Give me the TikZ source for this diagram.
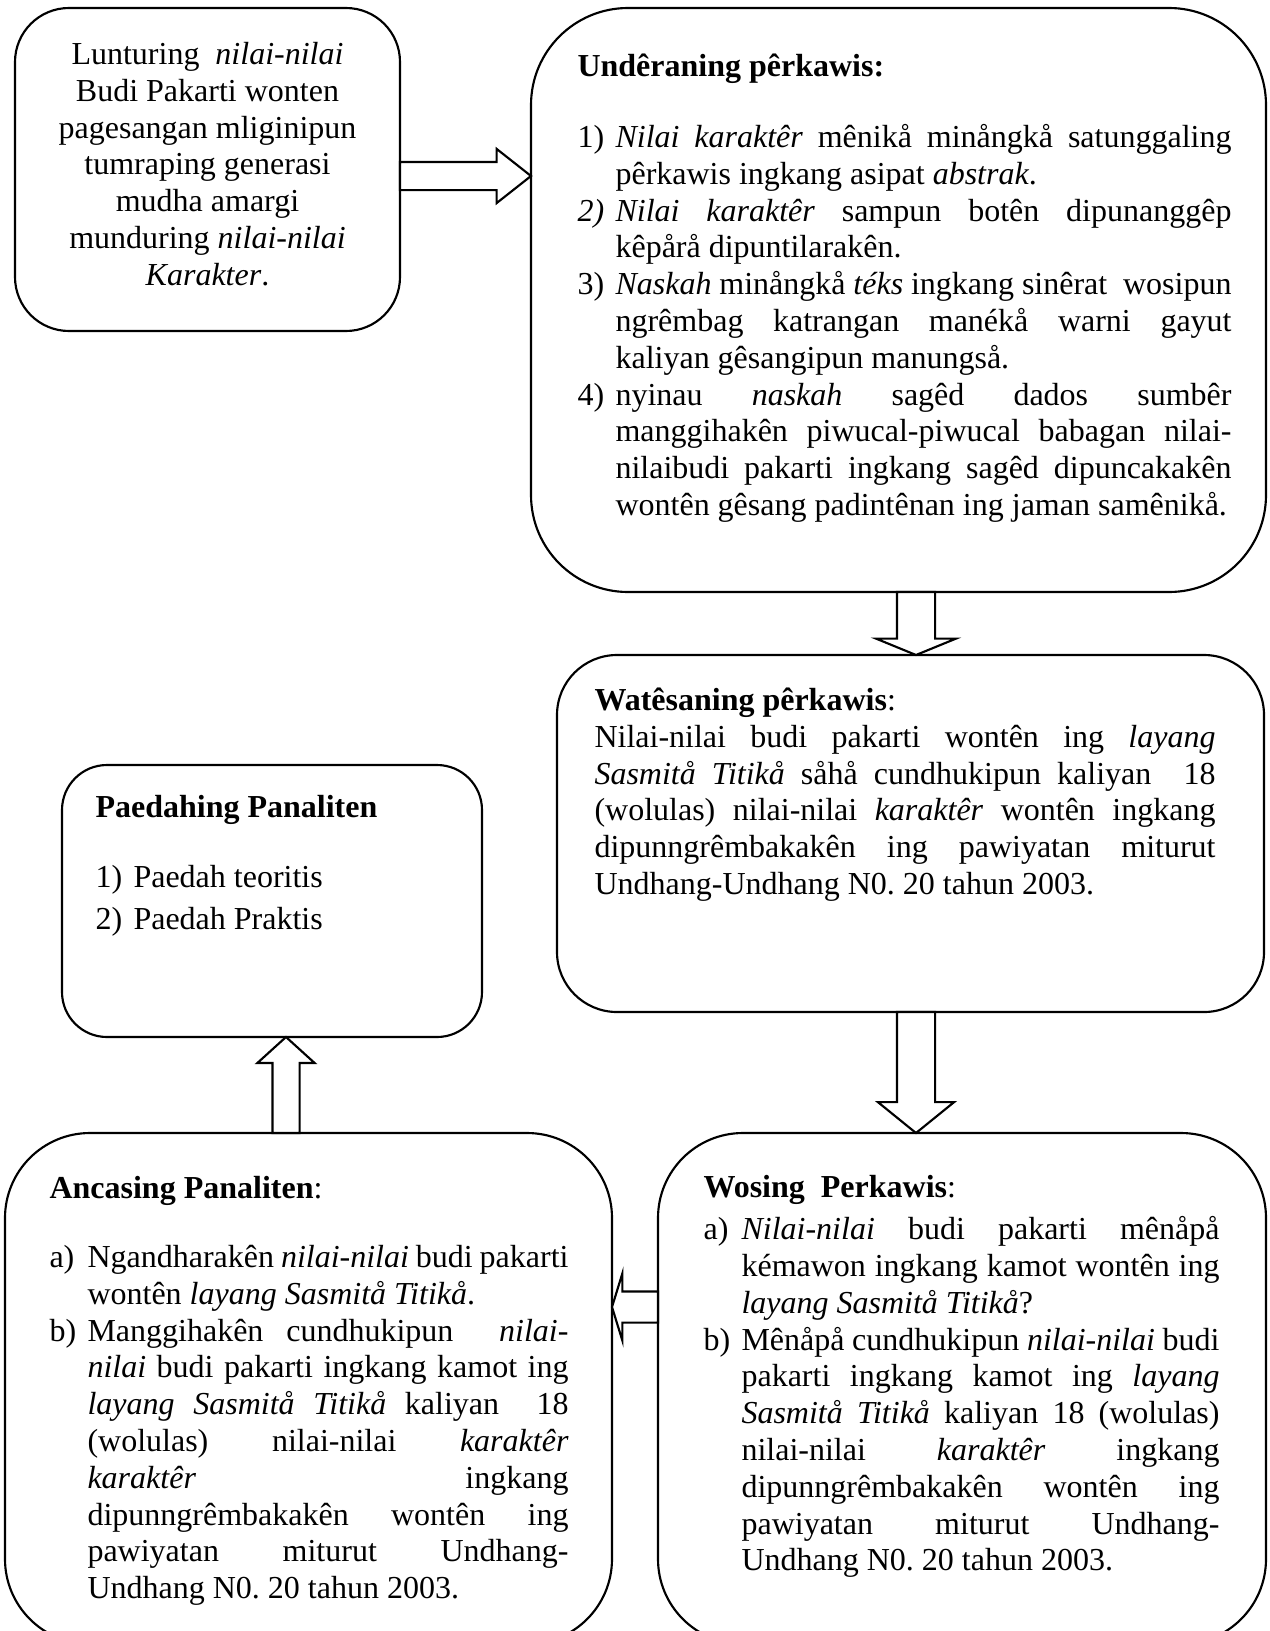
\documentclass[tikz,border=0pt]{standalone}
\usepackage{fontspec}
\setmainfont{Liberation Serif}
\usetikzlibrary{shapes.arrows, positioning}

\newdimen\pxu \pxu=0.375pt
\newdimen\butirw \butirw=38\pxu
\newcommand{\butir}[2]{\par\noindent\hangindent=\butirw\hangafter=1\makebox[\butirw][l]{#1}#2\par}
\tolerance=9999
\frenchspacing

\tikzset{
	kotak/.style={draw, line width=0.8pt, anchor=north west, inner sep=0pt, outer sep=0pt},
	isi/.style={anchor=north west, inner sep=0pt, align=justify, font=\fontsize{12pt}{13.8pt}\selectfont},
	panah/.style={single arrow, draw, fill=white, line width=0.8pt, inner xsep=0pt, outer sep=0pt,
		anchor=tail, single arrow head indent=0pt},
}

\begin{document}
\begin{tikzpicture}[x=0.375pt, y=-0.375pt]
		\useasboundingbox (0,0) rectangle (1270,1631);
		
		% Lunturing box (top left)
		\node[kotak, minimum width=385\pxu, minimum height=323\pxu, rounded corners=54\pxu] (lunturing) at (15,8) {};
		\node[isi, anchor=north, align=center] (lunturing-isi) at (207.5,38.2)
		{\strut Lunturing\ \ \textit{nilai-nilai}\\ Budi Pakarti wonten\\ pagesangan mliginipun\\
			tumraping generasi\\ mudha amargi\\ munduring \textit{nilai-nilai}\\ \textit{Karakter}.};
		
		% Underaning perkawis box
		\node[kotak, minimum width=735\pxu, minimum height=584\pxu, rounded corners=97\pxu] (undheran) at (531,8) {};
		\node[isi, text width=654\pxu] (undheran-isi) at (577,50.2) {%
			\noindent\strut\textbf{Undêraning pêrkawis:}\par\vspace{12.8pt}
			\butir{1)}{\textit{Nilai karaktêr} mênikå minångkå satunggaling\linebreak pêrkawis ingkang asipat \textit{abstrak}.}
			\butir{\textit{2)}}{\textit{Nilai karaktêr} sampun botên dipunanggêp\linebreak kêpårå dipuntilarakên.}
			\butir{3)}{\textit{Naskah} minångkå \textit{téks} ingkang sinêrat\ \ wosipun\linebreak ngrêmbag katrangan manékå warni gayut\linebreak kaliyan gêsangipun manungså.}
			\butir{4)}{nyinau \textit{naskah} sagêd dados sumbêr\linebreak manggihakên piwucal-piwucal babagan nilai-\linebreak nilaibudi pakarti ingkang sagêd dipuncakakên\linebreak wontên gêsang padintênan ing jaman samênikå.}};
		
		% Watesaning perkawis box
		\node[kotak, minimum width=707\pxu, minimum height=357\pxu, rounded corners=60\pxu] (watesan) at (557,655) {};
		\node[isi, text width=621\pxu] (watesan-isi) at (594,684.2) {%
			\noindent\strut\textbf{Watêsaning pêrkawis}:\par
			\noindent Nilai-nilai budi pakarti wontên ing \textit{layang}\linebreak \textit{Sasmitå Titikå} såhå cundhukipun kaliyan\ \ 18\linebreak (wolulas) nilai-nilai \textit{karaktêr} wontên ingkang\linebreak dipunngrêmbakakên ing pawiyatan miturut\linebreak Undhang-Undhang N0. 20 tahun 2003.\par};
		
		% Paedahing panaliten box
		\node[kotak, minimum width=420\pxu, minimum height=272\pxu, rounded corners=45\pxu] (paedah) at (62,765) {};
		\node[isi, text width=360\pxu] (paedah-isi) at (95,791.2) {%
			\noindent\strut\textbf{Paedahing Panaliten}\par\vspace{12.45pt}
			\butir{1)}{Paedah teoritis}\vspace{1.95pt}
			\butir{2)}{Paedah Praktis}};
		
		% Ancasing panaliten box
		\node[kotak, minimum width=607\pxu, minimum height=511\pxu, rounded corners=85\pxu] (ancas) at (5,1133) {};
		\node[isi, text width=519\pxu] (ancas-isi) at (49,1172.2) {%
			\noindent\strut\textbf{Ancasing Panaliten}:\par\vspace{12.1pt}
			\butir{a)}{Ngandharakên \textit{nilai-nilai} budi pakarti\linebreak wontên \textit{layang Sasmitå Titikå}.}
			\butir{b)}{Manggihakên cundhukipun\ \ \textit{nilai-}\linebreak \textit{nilai} budi pakarti ingkang kamot ing\linebreak \textit{layang Sasmitå Titikå} kaliyan\ \ 18\linebreak (wolulas) nilai-nilai \textit{karaktêr}\linebreak \textit{karaktêr} ingkang\linebreak dipunngrêmbakakên wontên ing\linebreak pawiyatan miturut Undhang-\linebreak Undhang N0. 20 tahun 2003.}};
		
		% Wosing perkawis box
		\node[kotak, minimum width=608\pxu, minimum height=511\pxu, rounded corners=85\pxu] (wosing) at (658,1133) {};
		\node[isi, text width=516\pxu] (wosing-isi) at (703,1171.2) {%
			\noindent\strut\textbf{Wosing\ \ Perkawis}:\par\vspace{2pt}
			\butir{a)}{\textit{Nilai-nilai} budi pakarti mênåpå\linebreak kémawon ingkang kamot wontên ing\linebreak \textit{layang Sasmitå Titikå}?}
			\butir{b)}{Mênåpå cundhukipun \textit{nilai-nilai} budi\linebreak pakarti ingkang kamot ing \textit{layang}\linebreak \textit{Sasmitå Titikå} kaliyan 18 (wolulas)\linebreak nilai-nilai \textit{karaktêr} ingkang\linebreak dipunngrêmbakakên wontên ing\linebreak pawiyatan miturut Undhang-\linebreak Undhang N0. 20 tahun 2003.}};
		
		% Block arrows between the boxes
		\node[panah, minimum height=131\pxu, inner ysep=13\pxu, single arrow head extend=13\pxu,
		single arrow tip angle=76.5] (a1) at ([shift={(0,6.5)}]lunturing.east) {};
		\node[panah, rotate=-90, minimum height=63\pxu, inner ysep=18\pxu, single arrow head extend=21\pxu,
		single arrow tip angle=135.4] (a2) at ([shift={(17.5,0)}]undheran.south) {};
		\node[panah, rotate=-90, minimum height=121\pxu, inner ysep=18\pxu, single arrow head extend=19\pxu,
		single arrow tip angle=101.9] (a3) at ([shift={(5.5,0)}]watesan.south) {};
		\node[panah, rotate=180, minimum height=46\pxu, inner ysep=14.5\pxu, single arrow head extend=18\pxu,
		single arrow tip angle=145.7] (a4) at ([shift={(0,-81.5)}]wosing.west) {};
		\node[panah, rotate=90, minimum height=96\pxu, inner ysep=12.5\pxu, single arrow head extend=15\pxu,
		single arrow tip angle=95.5] (a5) at ([shift={(-22.5,0)}]ancas.north) {};
		
	\end{tikzpicture}
\end{document}
